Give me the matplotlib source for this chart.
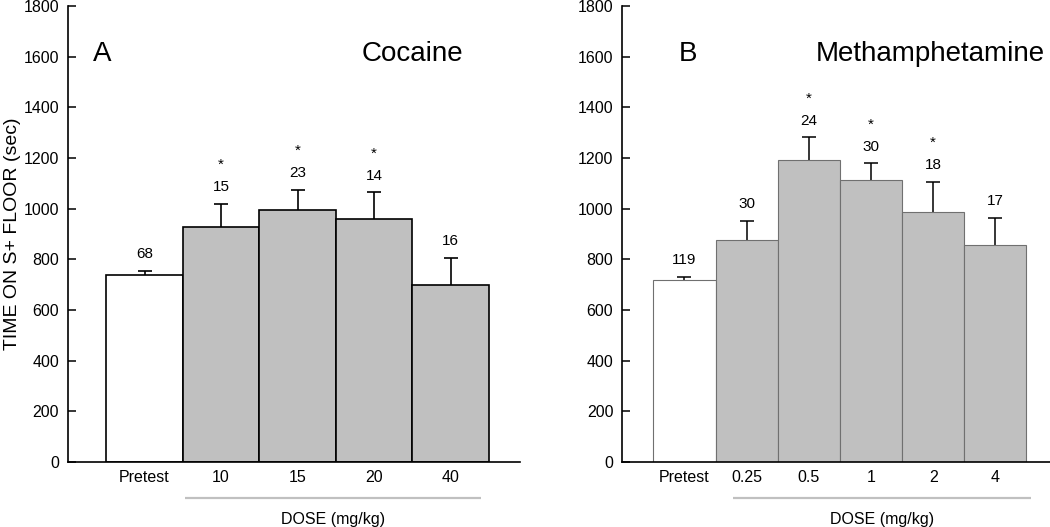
import matplotlib
matplotlib.use("Agg")
import matplotlib.pyplot as plt
import matplotlib.transforms as mtransforms

plt.rcParams['font.family'] = ['Liberation Sans', 'DejaVu Sans']

# ---- data ----
coc_labels = ["Pretest", "10", "15", "20", "40"]
coc_means = [737, 929, 996, 959, 699]
coc_sem = [17, 91, 79, 106, 107]
coc_n = [68, 15, 23, 14, 16]
coc_sig = [False, True, True, True, False]

meth_labels = ["Pretest", "0.25", "0.5", "1", "2", "4"]
meth_means = [718, 876, 1194, 1113, 985, 855]
meth_sem = [13, 76, 87, 66, 121, 108]
meth_n = [119, 30, 24, 30, 18, 17]
meth_sig = [False, False, True, True, True, False]

y_ticks = [0, 200, 400, 600, 800, 1000, 1200, 1400, 1600, 1800]

fig = plt.figure(figsize=(10.5, 5.27), dpi=100)
axA = fig.add_axes([0.0648, 0.1233, 0.4300, 0.8653])
axB = fig.add_axes([0.5927, 0.1233, 0.4073, 0.8653])


def panel(ax, labels, means, sem, ns, sig, edgecolor, edge_lw, err_lw, xmax,
          letter, letter_x, drug, drug_x, drug_ha, dose_span):
    x = list(range(len(labels)))
    colors = ['white'] + ['#c0c0c0'] * (len(labels) - 1)
    ax.bar(x, means, width=1.0, color=colors, edgecolor=edgecolor,
           linewidth=edge_lw, zorder=2)
    eb = ax.errorbar(x, means, yerr=[[0] * len(sem), sem], fmt='none',
                     ecolor='black', elinewidth=err_lw, capsize=5.2,
                     capthick=err_lw, zorder=1)
    caps = eb[1]
    if len(caps) >= 2:
        caps[0].set_visible(False)
    for xi, m, s, n, sg in zip(x, means, sem, ns, sig):
        top = m + s
        ax.annotate(str(n), (xi, top), xytext=(0, 12), textcoords='offset points',
                    ha='center', va='center', fontsize=11)
        if sg:
            ax.annotate('*', (xi, top), xytext=(0, 28), textcoords='offset points',
                        ha='center', va='center', fontsize=11)
    ax.set_xlim(-1.0, xmax)
    ax.set_ylim(0, 1800)
    ax.set_yticks(y_ticks)
    ax.set_xticks(x)
    ax.set_xticklabels(labels)
    ax.tick_params(axis='y', direction='in', length=5.5, width=1.1,
                   labelsize=11.5, pad=6.5)
    ax.tick_params(axis='x', length=0, labelsize=11.5, pad=6)
    for sp in ['top', 'right']:
        ax.spines[sp].set_visible(False)
    for sp in ['left', 'bottom']:
        ax.spines[sp].set_linewidth(1.2)
    ax.text(letter_x, 0.895, letter, transform=ax.transAxes, fontsize=20,
            ha='left', va='center')
    ax.text(drug_x, 0.895, drug, transform=ax.transAxes, fontsize=20,
            ha=drug_ha, va='center')
    trans = mtransforms.blended_transform_factory(ax.transData, ax.transAxes)
    ax.plot(dose_span, [-0.079, -0.079], transform=trans, color='#c0c0c0',
            lw=1.6, clip_on=False, solid_capstyle='butt')
    xc = (dose_span[0] + dose_span[1]) / 2
    ax.text(xc, -0.125, 'DOSE (mg/kg)', transform=trans, ha='center',
            va='center', fontsize=11.5)


panel(axA, coc_labels, coc_means, coc_sem, coc_n, coc_sig, 'black', 1.2, 1.2,
      4.9, 'A', 0.055, 'Cocaine', 0.876, 'right', [0.53, 4.39])
panel(axB, meth_labels, meth_means, meth_sem, meth_n, meth_sig, '#707070', 0.8, 1.1,
      5.88, 'B', 0.131, 'Methamphetamine', 0.452, 'left', [0.78, 5.57])

axA.set_ylabel('TIME ON S+ FLOOR (sec)', fontsize=14, labelpad=2)

fig.savefig('out.png', dpi=100)
